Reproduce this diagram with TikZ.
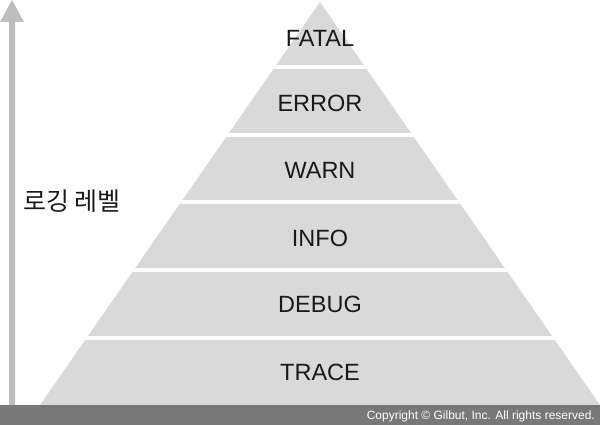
\documentclass[tikz,border=0pt]{standalone}
\usepackage{fontspec}
\setmainfont{Liberation Sans}
\newfontfamily\kofont{Noto Sans CJK KR}
\definecolor{band}{HTML}{D9D9D9}
\definecolor{arrowgray}{HTML}{BDBDBD}
\definecolor{barGray}{HTML}{787878}
\tikzset{
  lvl/.style={font=\fontsize{23.5}{26}\selectfont, text=black!90, inner sep=0pt},
  gap/.style={draw=white, line width=4pt},
}
\begin{document}
\begin{tikzpicture}[x=1pt,y=-1pt]
\useasboundingbox (0,0) rectangle (600,425);
% pyramid
\fill[band] (320,2) -- (600,405) -- (40,405) -- cycle;
\begin{scope}
\clip (320,2) -- (600,405) -- (40,405) -- cycle;
\foreach \yy in {67.5,135,202,270,338} \draw[gap] (0,\yy) -- (600,\yy);
\end{scope}
% arrow
\fill[arrowgray] (9,405) -- (9,22) -- (0,22) -- (12,0) -- (24,22) -- (15,22) -- (15,405) -- cycle;
% bottom bar
\fill[barGray] (0,405) rectangle (600,425);
\node[anchor=east, text=white, font=\fontsize{12}{14}\selectfont, inner sep=0pt] (copy) at (595,416) {Copyright \textcopyright\ Gilbut, Inc. All rights reserved.};
% labels
\node[lvl] (fatal) at (320,38) {FATAL};
\node[lvl] (error) at (320,103) {ERROR};
\node[lvl] (warn) at (320,170) {WARN};
\node[lvl] (info) at (320,238) {INFO};
\node[lvl] (debug) at (320,304) {DEBUG};
\node[lvl] (trace) at (320,372) {TRACE};
\node[font=\kofont\fontsize{25}{28}\selectfont, text=black!90, inner sep=0pt] (axis) at (72,201) {로깅 레벨};
\end{tikzpicture}
\end{document}
